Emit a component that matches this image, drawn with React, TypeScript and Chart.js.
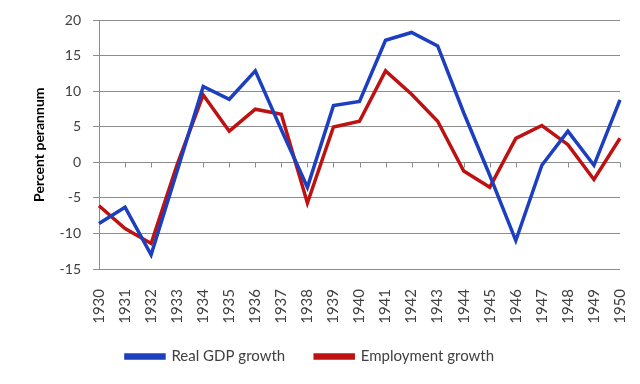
import React, { useEffect, useRef } from "react";
import { Chart, registerables } from "chart.js";

Chart.register(...registerables);

const years = ["1930","1931","1932","1933","1934","1935","1936","1937","1938","1939","1940","1941","1942","1943","1944","1945","1946","1947","1948","1949","1950"];
const gdpGrowth = [-8.6, -6.3, -13.0, -1.2, 10.7, 8.9, 12.9, 4.6, -3.5, 8.0, 8.6, 17.2, 18.3, 16.4, 7.0, -1.8, -11.0, -0.4, 4.4, -0.4, 8.8];
const employmentGrowth = [-6.1, -9.3, -11.4, -0.3, 9.5, 4.4, 7.5, 6.8, -5.7, 5.0, 5.8, 12.9, 9.6, 5.8, -1.2, -3.5, 3.4, 5.2, 2.5, -2.4, 3.4];
const yMin = -15;
const yMax = 20;
const yStep = 5;

const GRID = "#8c8c8c";
const TEXT = "#404040";
const FONT = "Lato, 'Open Sans', 'DejaVu Sans', sans-serif";

const zeroTicks = {
  id: "zeroTicks",
  beforeDatasetsDraw(chart: any) {
    const { ctx, scales } = chart;
    const x = scales.x;
    const y = scales.y;
    const y0 = y.getPixelForValue(0);
    ctx.save();
    ctx.strokeStyle = GRID;
    ctx.lineWidth = 1;
    ctx.beginPath();
    for (let i = 0; i < years.length; i++) {
      const px = Math.round(x.getPixelForValue(i)) + 0.5;
      ctx.moveTo(px, y0);
      ctx.lineTo(px, y0 + 5);
    }
    ctx.stroke();
    ctx.restore();
  },
};

export default function App() {
  const ref = useRef<HTMLCanvasElement | null>(null);
  useEffect(() => {
    if (!ref.current) return;
    const chart = new Chart(ref.current, {
      type: "line",
      data: {
        labels: years,
        datasets: [
          {
            label: "Real GDP growth",
            data: gdpGrowth,
            borderColor: "#1c3fc0",
            backgroundColor: "#1c3fc0",
            borderWidth: 3.5,
            pointRadius: 0,
            tension: 0,
          },
          {
            label: "Employment growth",
            data: employmentGrowth,
            borderColor: "#be1212",
            backgroundColor: "#be1212",
            borderWidth: 3.5,
            pointRadius: 0,
            tension: 0,
          },
        ],
      },
      options: {
        animation: false,
        responsive: false,
        maintainAspectRatio: false,
        layout: { padding: { left: 0, right: 20, top: 20, bottom: 10 } },
        plugins: {
          tooltip: { enabled: false },
          legend: {
            position: "bottom",
            labels: {
              boxWidth: 38,
              boxHeight: 3,
              padding: 30,
              color: TEXT,
              font: { family: FONT, size: 15 },
            },
          },
        },
        scales: {
          x: {
            offset: false,
            afterFit(scale: any) {
              scale.height = 50;
              scale.paddingRight = 0;
              scale.paddingLeft = 0;
              scale._computeLabelArea = () => undefined;
            },
            grid: { display: false },
            border: { display: false },
            ticks: {
              autoSkip: false,
              maxRotation: 90,
              minRotation: 90,
              padding: 12,
              color: TEXT,
              font: { family: FONT, size: 15 },
            },
          },
          y: {
            min: yMin,
            max: yMax,
            afterFit(scale: any) {
              scale.width = 99;
            },
            ticks: {
              stepSize: yStep,
              padding: 12,
              color: TEXT,
              font: { family: FONT, size: 14 },
            },
            grid: { color: GRID, tickLength: 6, lineWidth: 1 },
            border: { display: true, color: GRID },
            title: {
              display: true,
              text: "Percent perannum",
              color: "#000",
              font: { family: FONT, size: 14, weight: "bold" },
              padding: { top: 31, bottom: 0 },
            },
          },
        },
      },
      plugins: [zeroTicks],
    });
    return () => chart.destroy();
  }, []);
  return (
    <div style={{ position: "fixed", left: 0, top: 0, width: 640, height: 384, background: "#fff" }}>
      <canvas ref={ref} width={640} height={384} style={{ width: 640, height: 384 }} />
    </div>
  );
}
